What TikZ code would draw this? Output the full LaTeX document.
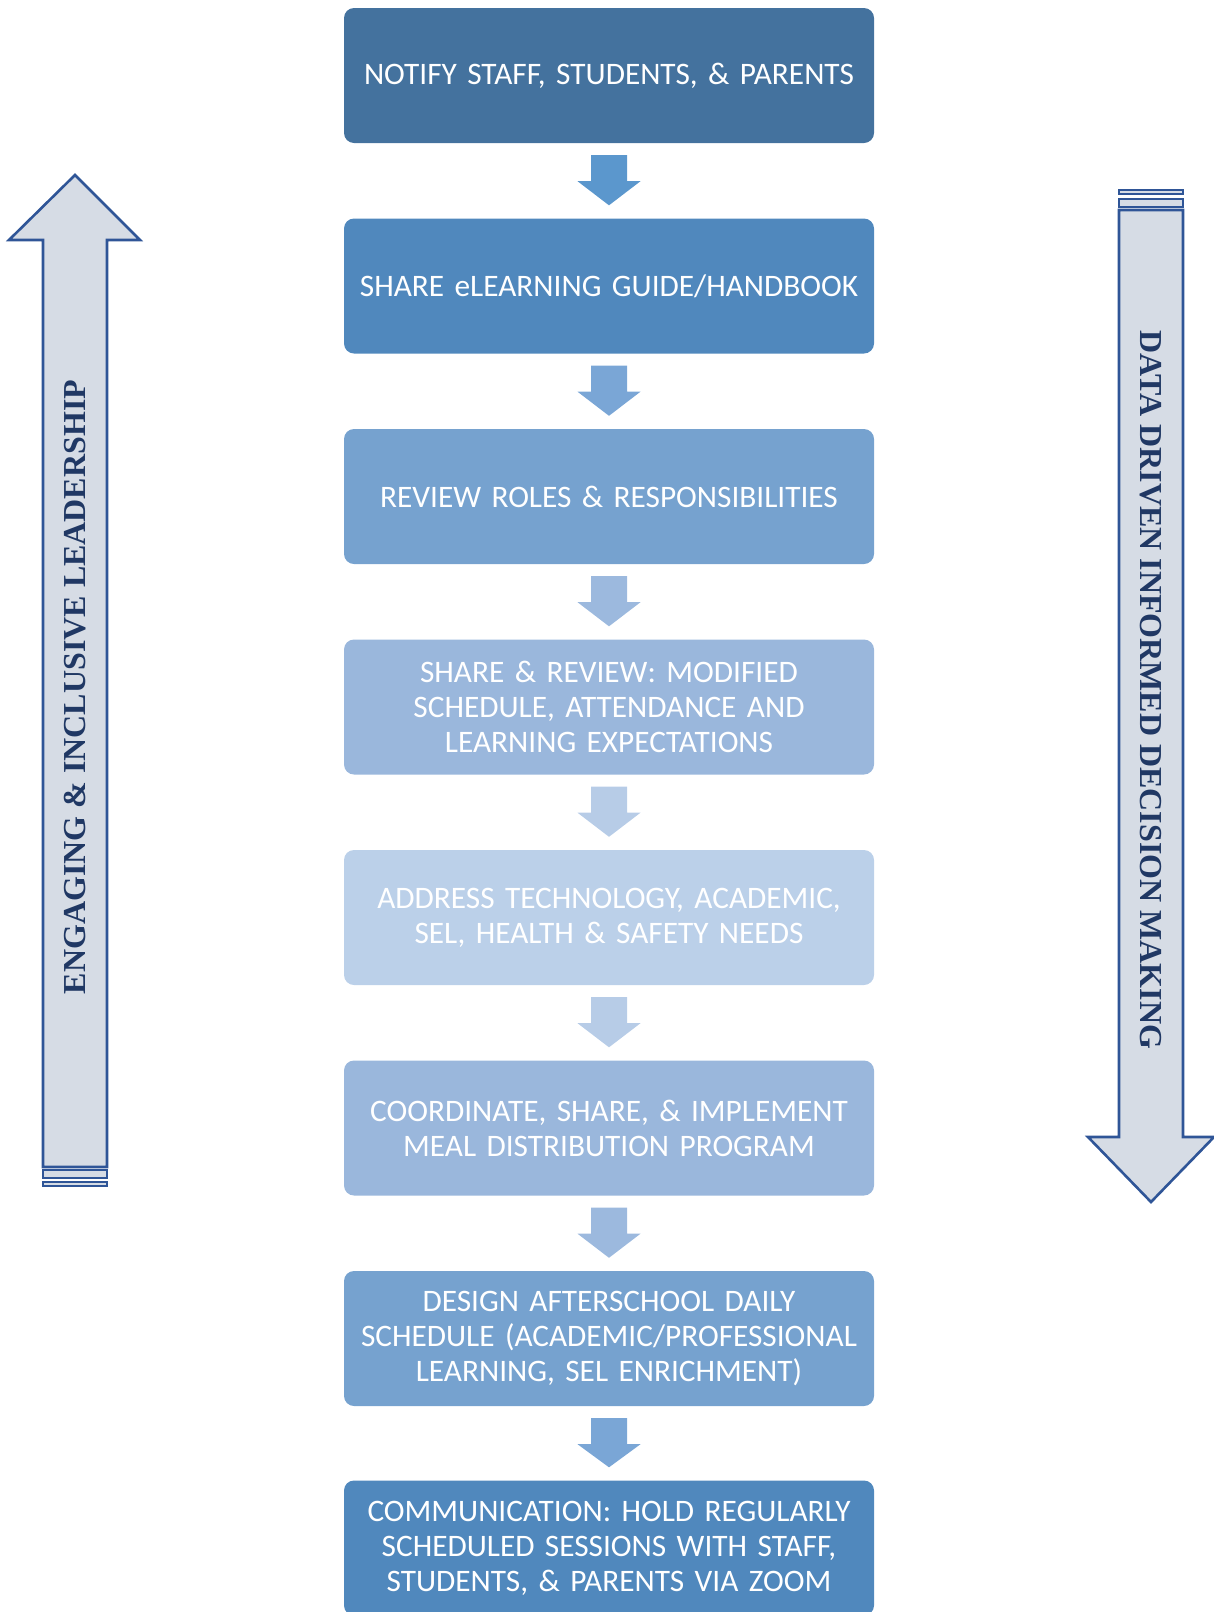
\documentclass[tikz,border=0pt]{standalone}
\usepackage{fontspec}
\setmainfont{Carlito}
\newfontfamily\sidefont{Liberation Serif}
\usetikzlibrary{calc}

\definecolor{boxA}{HTML}{44729E}
\definecolor{boxB}{HTML}{5088BD}
\definecolor{boxC}{HTML}{76A2CF}
\definecolor{boxD}{HTML}{9AB7DC}
\definecolor{boxE}{HTML}{BBD0E9}
\definecolor{arrA}{HTML}{5B97CD}
\definecolor{arrB}{HTML}{7AA6D6}
\definecolor{arrC}{HTML}{9CB9DE}
\definecolor{arrD}{HTML}{B7CCE7}
\definecolor{sideline}{HTML}{2F5597}
\definecolor{sidefill}{HTML}{D6DCE5}
\definecolor{sidetext}{HTML}{203864}

% step text: slightly tighter word spacing
\newcommand{\stepfont}{\fontsize{31.3}{35}\selectfont\spaceskip=0.15em plus 0.05em\relax}

\tikzset{
  stepbox/.style={rectangle, rounded corners=10pt, minimum width=530pt,
    minimum height=135pt, inner sep=0pt, text width=526pt, align=center,
    text=white, font=\stepfont},
  sidearrow/.style={draw=sideline, fill=sidefill, line width=2.6pt, line join=miter},
  sidelabel/.style={text=sidetext, font=\sidefont\bfseries\fontsize{32}{38}\selectfont}
}

% block arrow pointing down from node #1 to node #2
\newcommand{\blockdown}[3]{%
  \fill[#3] ($(#1.south)+(-18,-12)$) -- ($(#1.south)+(18,-12)$)
    -- ($(#1.south)+(18,-38)$) -- ($(#1.south)+(31.5,-38)$)
    -- ($(#2.north)+(0,13)$)
    -- ($(#1.south)+(-31.5,-38)$) -- ($(#1.south)+(-18,-38)$) -- cycle;}

\begin{document}
\begin{tikzpicture}[x=1pt,y=1pt]
\useasboundingbox (0,0) rectangle (1214,-1612);
\begin{scope}
\clip (0,0) rectangle (1214,-1612);

% process steps
\node[stepbox, fill=boxA] (s1) at (609,-75.5) {NOTIFY STAFF, STUDENTS, \& PARENTS};
\node[stepbox, fill=boxB] (s2) at (609,-286) {SHARE eLEARNING GUIDE/HANDBOOK};
\node[stepbox, fill=boxC] (s3) at (609,-496.5) {REVIEW ROLES \& RESPONSIBILITIES};
\node[stepbox, fill=boxD] (s4) at (609,-707) {SHARE \& REVIEW: MODIFIED\\SCHEDULE, ATTENDANCE AND\\LEARNING EXPECTATIONS};
\node[stepbox, fill=boxE] (s5) at (609,-917.5) {ADDRESS TECHNOLOGY, ACADEMIC,\\SEL, HEALTH \& SAFETY NEEDS};
\node[stepbox, fill=boxD] (s6) at (609,-1128) {COORDINATE, SHARE, \& IMPLEMENT\\MEAL DISTRIBUTION PROGRAM};
\node[stepbox, fill=boxC] (s7) at (609,-1338.5) {DESIGN AFTERSCHOOL DAILY\\SCHEDULE (ACADEMIC/PROFESSIONAL\\LEARNING, SEL ENRICHMENT)};
\node[stepbox, fill=boxB] (s8) at (609,-1548) {COMMUNICATION: HOLD REGULARLY\\SCHEDULED SESSIONS WITH STAFF,\\STUDENTS, \& PARENTS VIA ZOOM};

% connecting block arrows
\blockdown{s1}{s2}{arrA}
\blockdown{s2}{s3}{arrB}
\blockdown{s3}{s4}{arrC}
\blockdown{s4}{s5}{arrD}
\blockdown{s5}{s6}{arrD}
\blockdown{s6}{s7}{arrC}
\blockdown{s7}{s8}{arrB}

% left upward arrow
\draw[sidearrow] (75,-175) -- (140,-240) -- (107,-240) -- (107,-1167)
  -- (43,-1167) -- (43,-240) -- (9,-240) -- cycle;
\draw[sidearrow] (43,-1170) rectangle (107,-1178);
\draw[sidearrow] (43,-1182) rectangle (107,-1186);
\node[sidelabel, rotate=90] (lleft) at (75,-687) {ENGAGING \& INCLUSIVE LEADERSHIP};

% right downward arrow
\draw[sidearrow] (1119,-190) rectangle (1183,-194);
\draw[sidearrow] (1119,-199) rectangle (1183,-207);
\draw[sidearrow] (1119,-210) -- (1183,-210) -- (1183,-1137) -- (1214,-1137)
  -- (1151,-1202) -- (1088,-1137) -- (1119,-1137) -- cycle;
\node[sidelabel, rotate=-90] (lright) at (1151,-690) {DATA DRIVEN INFORMED DECISION MAKING};
\end{scope}
\end{tikzpicture}
\end{document}
